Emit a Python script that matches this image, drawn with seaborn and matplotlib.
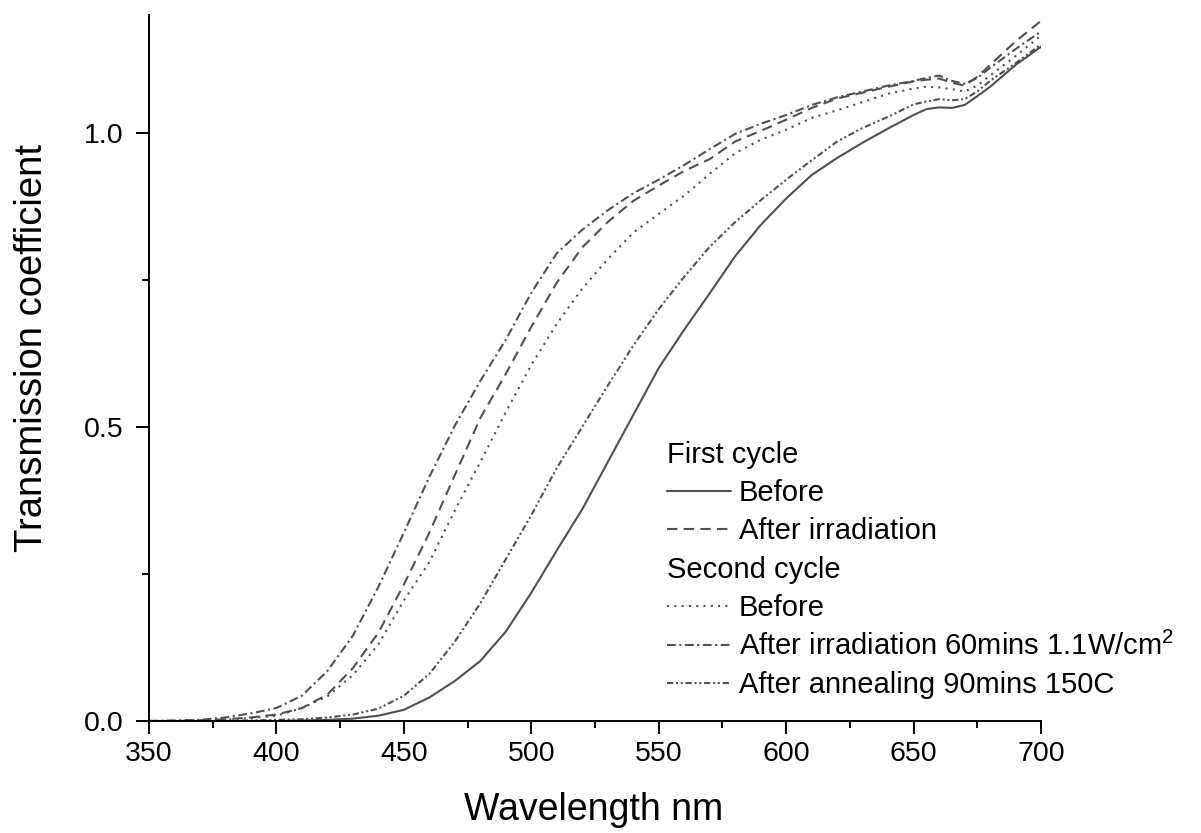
import pandas as pd
import seaborn as sns
import matplotlib.pyplot as plt
from matplotlib.ticker import MultipleLocator, FormatStrFormatter

wavelength = [350, 360, 370, 380, 390, 400, 410, 420, 430, 440, 450, 460, 470, 480,
              490, 500, 510, 520, 530, 540, 550, 560, 570, 580, 590, 600, 610, 620,
              630, 640, 650, 655, 660, 665, 670, 675, 680, 690, 700]

first_before = [0, 0, 0, 0, 0, 0, 0.001, 0.002, 0.004, 0.009, 0.019, 0.04, 0.068, 0.102,
                0.152, 0.218, 0.29, 0.36, 0.44, 0.52, 0.60, 0.665, 0.727, 0.79, 0.843, 0.888,
                0.928, 0.957, 0.983, 1.007, 1.03, 1.04, 1.043, 1.042, 1.047, 1.062, 1.078,
                1.115, 1.146]
first_irr = [0, 0, 0.001, 0.003, 0.006, 0.011, 0.022, 0.045, 0.09, 0.15, 0.232, 0.32, 0.418,
             0.515, 0.59, 0.67, 0.745, 0.805, 0.848, 0.884, 0.91, 0.935, 0.955, 0.985, 1.003,
             1.022, 1.042, 1.058, 1.068, 1.078, 1.087, 1.09, 1.092, 1.085, 1.08, 1.095, 1.115,
             1.155, 1.19]
second_before = [0, 0, 0.001, 0.002, 0.005, 0.009, 0.022, 0.042, 0.078, 0.13, 0.205, 0.27,
                 0.358, 0.44, 0.525, 0.605, 0.675, 0.735, 0.785, 0.83, 0.862, 0.893, 0.93,
                 0.965, 0.988, 1.005, 1.025, 1.038, 1.052, 1.066, 1.075, 1.078, 1.077, 1.074,
                 1.07, 1.08, 1.097, 1.13, 1.165]
second_irr = [0, 0.001, 0.002, 0.006, 0.013, 0.022, 0.043, 0.085, 0.145, 0.228, 0.32, 0.415,
              0.502, 0.578, 0.648, 0.728, 0.795, 0.835, 0.868, 0.897, 0.92, 0.945, 0.972, 0.998,
              1.015, 1.03, 1.047, 1.06, 1.07, 1.08, 1.088, 1.093, 1.097, 1.088, 1.083, 1.093,
              1.11, 1.142, 1.172]
second_anneal = [0, 0, 0, 0, 0.001, 0.002, 0.003, 0.006, 0.011, 0.021, 0.043, 0.08, 0.135,
                 0.2, 0.275, 0.35, 0.43, 0.5, 0.57, 0.638, 0.70, 0.755, 0.806, 0.848, 0.885,
                 0.92, 0.953, 0.985, 1.008, 1.027, 1.048, 1.053, 1.057, 1.055, 1.057, 1.07,
                 1.088, 1.118, 1.15]

series = ['c1_before', 'c1_irr', 'c2_before', 'c2_irr', 'c2_anneal']
labels = ['Before', 'After irradiation', 'Before',
          'After irradiation 60mins 1.1W/cm$^{2}$', 'After annealing 90mins 150C']
values = [first_before, first_irr, second_before, second_irr, second_anneal]

rows = []
for name, vals in zip(series, values):
    for w, v in zip(wavelength, vals):
        rows.append({'wavelength': w, 'T': v, 'series': name})
df = pd.DataFrame(rows)

sns.set_style('ticks')
plt.rcParams['font.family'] = ['Liberation Sans', 'DejaVu Sans']
plt.rcParams['mathtext.fontset'] = 'custom'
plt.rcParams['mathtext.rm'] = 'Liberation Sans'
plt.rcParams['mathtext.default'] = 'regular'
plt.rcParams['text.color'] = 'black'
plt.rcParams['axes.labelcolor'] = 'black'
plt.rcParams['xtick.color'] = 'black'
plt.rcParams['ytick.color'] = 'black'

line_color = '#505050'
dash_specs = ['', (5, 3), (1, 2.5), (4.2, 1.7, 1, 1.7), (3, 1.3, 1, 1.3, 1, 1.3)]

fig = plt.figure(figsize=(12.01, 8.33), dpi=100)
ax = fig.add_axes([149 / 1201, 112 / 833, 892 / 1201, 706 / 833])

sns.lineplot(data=df, x='wavelength', y='T', style='series', style_order=series,
             dashes=dash_specs, color=line_color, linewidth=1.5, legend=False, ax=ax)

ax.set_xlim(350, 700)
ax.set_ylim(0, 1.2)
ax.xaxis.set_major_locator(MultipleLocator(50))
ax.xaxis.set_minor_locator(MultipleLocator(25))
ax.yaxis.set_major_locator(MultipleLocator(0.5))
ax.yaxis.set_minor_locator(MultipleLocator(0.25))
ax.yaxis.set_major_formatter(FormatStrFormatter('%.1f'))
ax.tick_params(which='major', length=9.5, width=1.4, labelsize=20.5,
               color='black', labelcolor='black')
ax.tick_params(which='minor', length=5, width=1.4, color='black')
ax.tick_params(axis='x', pad=5)
ax.tick_params(axis='y', pad=9)
for sp in ['left', 'bottom']:
    ax.spines[sp].set_linewidth(1.4)
    ax.spines[sp].set_color('black')
for sp in ['top', 'right']:
    ax.spines[sp].set_visible(False)

ax.set_xlabel('Wavelength nm', fontsize=27, color='black')
ax.set_ylabel('Transmission coefficient', fontsize=27.5, color='black')
ax.xaxis.set_label_coords(0.498, -0.1)
ax.yaxis.set_label_coords(-0.111, 0.528)

# legend with two section headers
lines = ax.get_lines()[:5]
blank = plt.Line2D([], [], linestyle='none')
handles = [blank, lines[0], lines[1], blank, lines[2], lines[3], lines[4]]
leg_labels = ['First cycle', labels[0], labels[1], 'Second cycle', labels[2], labels[3], labels[4]]
leg = ax.legend(handles, leg_labels, loc='upper left', bbox_to_anchor=(667 / 1201, 392 / 833),
                bbox_transform=fig.transFigure, frameon=False, fontsize=21,
                handlelength=2.2, handletextpad=0.27, labelspacing=0.35,
                borderpad=0, borderaxespad=0)
for t in leg.get_texts():
    t.set_color('black')
for vpack in leg._legend_handle_box.get_children():
    for i, hpack in enumerate(vpack.get_children()):
        if i in (0, 3):
            hpack.get_children()[0].set_width(0)
            hpack.sep = 0

plt.savefig('out.png', dpi=100)
